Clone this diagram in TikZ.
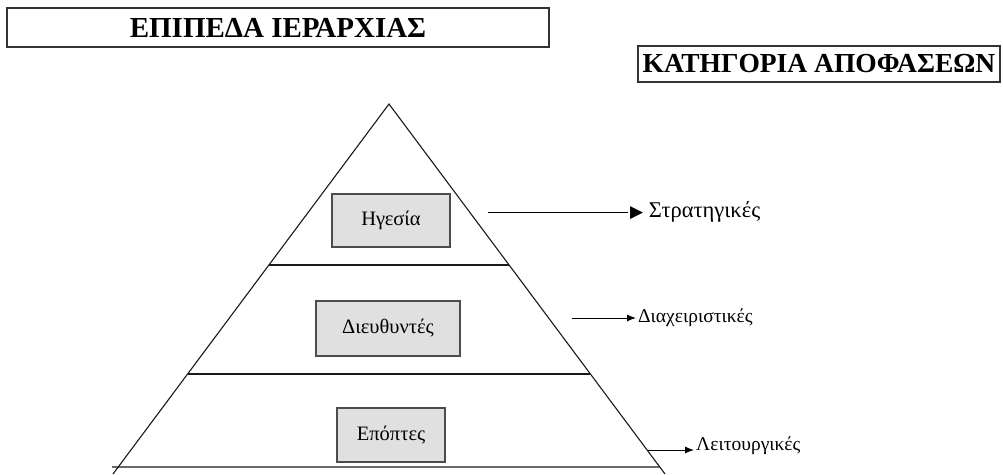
\documentclass[tikz,border=0pt]{standalone}
\usepackage{fontspec}
\setmainfont{Liberation Serif}
\newfontfamily\symfont{DejaVu Sans}
\usetikzlibrary{arrows.meta,calc}
\begin{document}
\begin{tikzpicture}[x=1pt,y=-1pt,
  titlebox/.style={draw=black!80, line width=1.4pt, inner sep=0pt,
    font=\fontsize{29}{32}\selectfont\bfseries},
  levelbox/.style={draw=black!70, line width=1.1pt, fill=black!12, inner sep=0pt,
    font=\fontsize{20.5}{23}\selectfont},
  side/.style={line width=1.1pt, black!90},
  decision/.style={font=\fontsize{19.5}{22}\selectfont, anchor=west, inner sep=2pt},
  pointer/.style={line width=1pt, -{Latex[length=9pt,width=7pt]}}]
\useasboundingbox (0,0) rectangle (1003,474);

% headings
\node[titlebox, minimum width=542pt, minimum height=39pt] (levels) at (278,27.5)
  {ΕΠΙΠΕΔΑ ΙΕΡΑΡΧΙΑΣ};
\node[titlebox, font=\fontsize{27.5}{30}\selectfont\bfseries,
  minimum width=362pt, minimum height=36pt] (kinds) at (819,64)
  {ΚΑΤΗΓΟΡΙΑ ΑΠΟΦΑΣΕΩΝ};

% pyramid outline
\coordinate (apex) at (389,104);
\coordinate (bl) at (113,474);
\coordinate (br) at (665,474);
\draw[side] (bl) -- (apex) -- (br);

% layer separators
\coordinate (l1a) at ($(apex)!0.435!(bl)$);
\coordinate (l1b) at ($(apex)!0.435!(br)$);
\coordinate (l2a) at ($(apex)!0.7297!(bl)$);
\coordinate (l2b) at ($(apex)!0.7297!(br)$);
\coordinate (l3a) at (112,467);
\coordinate (l3b) at ($(apex)!0.981!(br)$);
\draw[side] (l1a) -- (l1b);
\draw[side] (l2a) -- (l2b);
\draw[side] (l3a) -- (l3b);

% hierarchy levels
\node[levelbox, minimum width=118pt, minimum height=53pt] (lead) at (391,220.5) {Ηγεσία};
\node[levelbox, minimum width=144pt, minimum height=55pt] (mgr) at (388,328.5) {Διευθυντές};
\node[levelbox, minimum width=108pt, minimum height=54pt] (sup) at (391,435) {Επόπτες};

% decision categories
\node[decision, font=\fontsize{22.5}{25}\selectfont] (strat) at (628,212)
  {{\symfont\fontsize{17}{19}\selectfont ▶} Στρατηγικές};
\node[decision] (admin) at (636,318) {Διαχειριστικές};
\node[decision, anchor=south west] (oper) at (694,457) {Λειτουργικές};

\coordinate (s1) at (488,212);
\coordinate (s2) at (572,318);
\coordinate (s3) at (648,450);
\draw[line width=1pt] (s1) -- (strat.west);
\draw[pointer] (s2) -- (admin.west);
\draw[pointer] (s3) -- (s3 -| oper.west);
\end{tikzpicture}
\end{document}
